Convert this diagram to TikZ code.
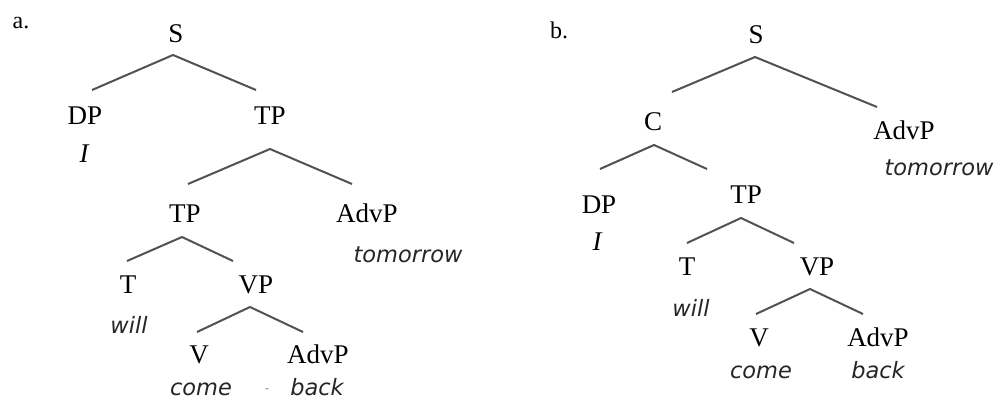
\documentclass[tikz,border=0pt]{standalone}
\usepackage{fontspec}
\setmainfont{Liberation Serif}
\newfontfamily\wordfont{DejaVu Sans}
\begin{document}
\begin{tikzpicture}[x=1pt,y=-1pt,
  cat/.style={anchor=base,inner sep=0pt,font=\fontsize{27}{32}\selectfont},
  lab/.style={anchor=base,inner sep=0pt,font=\fontsize{24}{28}\selectfont},
  word/.style={anchor=base,inner sep=0pt,font=\wordfont\itshape\fontsize{22.5}{26}\selectfont,text=black!85},
  iword/.style={anchor=base,inner sep=0pt,font=\itshape\fontsize{27}{32}\selectfont},
  branch/.style={draw=black!68,line width=2pt,line join=round}]
\useasboundingbox (0,0) rectangle (1001,399);
% ---------- tree a ----------
\node[lab] (alab) at (21,28) {a.};
\node[cat] (aS) at (176,42) {S};
\node[cat] (aDP) at (85,124) {DP};
\node[iword] (aI) at (84,162) {I};
\node[cat] (aTP1) at (270,124) {TP};
\node[cat] (aTP2) at (185,222) {TP};
\node[cat] (aAdvP1) at (367,222) {AdvP};
\node[word] (atomorrow) at (408,262) {tomorrow};
\node[cat] (aT) at (128,293) {T};
\node[word] (awill) at (129,333) {will};
\node[cat] (aVP) at (256,293) {VP};
\node[cat] (aV) at (199,363) {V};
\node[word] (acome) at (201,395) {come};
\node[cat] (aAdvP2) at (318,363) {AdvP};
\node[word] (aback) at (317,395) {back};
\node[anchor=base,inner sep=0pt,font=\wordfont\fontsize{12}{14}\selectfont,text=black!45] (adash) at (267,392) {-};
\coordinate (aS-top) at (173,55);
\coordinate (aS-l) at (92,90);
\coordinate (aS-r) at (256,90);
\coordinate (aTP1-top) at (270,149);
\coordinate (aTP1-l) at (188,184);
\coordinate (aTP1-r) at (352,184);
\coordinate (aTP2-top) at (182,237);
\coordinate (aTP2-l) at (127,261);
\coordinate (aTP2-r) at (233,261);
\coordinate (aVP-top) at (250,307);
\coordinate (aVP-l) at (197,332);
\coordinate (aVP-r) at (303,332);
\draw[branch] (aS-l) -- (aS-top) -- (aS-r);
\draw[branch] (aTP1-l) -- (aTP1-top) -- (aTP1-r);
\draw[branch] (aTP2-l) -- (aTP2-top) -- (aTP2-r);
\draw[branch] (aVP-l) -- (aVP-top) -- (aVP-r);
% ---------- tree b ----------
\node[lab] (blab) at (559,38) {b.};
\node[cat] (bS) at (756,43) {S};
\node[cat] (bC) at (653,130) {C};
\node[cat] (bAdvP1) at (904,139) {AdvP};
\node[word] (btomorrow) at (939,175) {tomorrow};
\node[cat] (bDP) at (599,213) {DP};
\node[iword] (bI) at (597,250) {I};
\node[cat] (bTP) at (746,203) {TP};
\node[cat] (bT) at (687,275) {T};
\node[word] (bwill) at (691,316) {will};
\node[cat] (bVP) at (817,275) {VP};
\node[cat] (bV) at (759,346) {V};
\node[word] (bcome) at (761,378) {come};
\node[cat] (bAdvP2) at (878,346) {AdvP};
\node[word] (bback) at (878,378) {back};
\coordinate (bS-top) at (755,57);
\coordinate (bS-l) at (672,92);
\coordinate (bS-r) at (877,107);
\coordinate (bC-top) at (654,145);
\coordinate (bC-l) at (600,169);
\coordinate (bC-r) at (707,169);
\coordinate (bTP-top) at (741,218);
\coordinate (bTP-l) at (687,243);
\coordinate (bTP-r) at (794,243);
\coordinate (bVP-top) at (810,289);
\coordinate (bVP-l) at (756,314);
\coordinate (bVP-r) at (863,314);
\draw[branch] (bS-l) -- (bS-top) -- (bS-r);
\draw[branch] (bC-l) -- (bC-top) -- (bC-r);
\draw[branch] (bTP-l) -- (bTP-top) -- (bTP-r);
\draw[branch] (bVP-l) -- (bVP-top) -- (bVP-r);
\end{tikzpicture}
\end{document}
